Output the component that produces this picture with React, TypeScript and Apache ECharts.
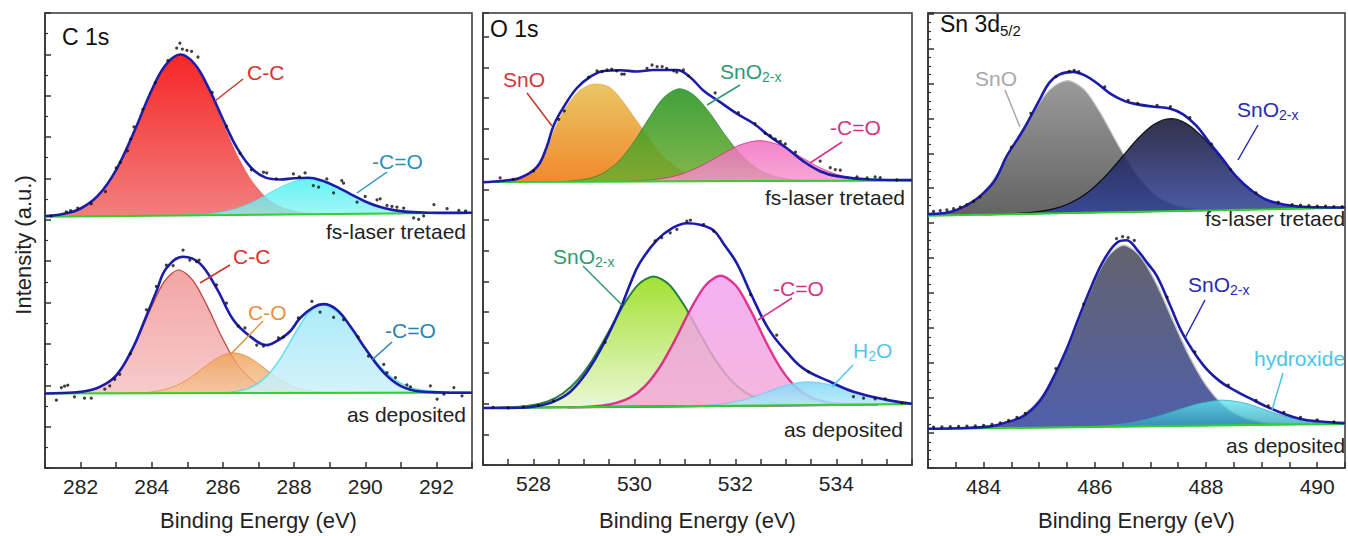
import React, { useEffect, useRef } from "react";
import * as echarts from "echarts";

// ---------------- C 1s (panel 1) ----------------
const C1S_TREATED_BASE = [[281, 253.0], [293, 257.0]];
const C1S_TREATED_CC = [[281.0, 253.0], [281.4, 255.0], [282.0, 261.2], [282.4, 271.1], [282.8, 288.4], [283.2, 314.0], [283.6, 346.9], [284.0, 380.5], [284.4, 406.1], [284.8, 416.0], [285.2, 406.4], [285.6, 381.0], [286.0, 347.7], [286.4, 315.1], [286.8, 289.7], [287.2, 272.7], [287.6, 263.1], [288.2, 257.3], [289.0, 255.7]];
const C1S_TREATED_COO = [[284.2, 254.1], [285.0, 254.6], [285.6, 255.9], [286.0, 258.0], [286.4, 261.6], [286.8, 267.2], [287.2, 274.7], [287.6, 282.5], [288.0, 288.5], [288.4, 291.0], [288.8, 288.8], [289.2, 283.0], [289.6, 275.5], [290.0, 268.3], [290.4, 262.9], [290.8, 259.6], [291.2, 257.8], [291.8, 256.9], [292.6, 256.9]];
const C1S_TREATED_ENV = [[281.0, 253.6], [281.5, 255.6], [282.0, 261.2], [282.5, 274.6], [283.0, 300.2], [283.5, 338.2], [284.0, 380.5], [284.4, 406.1], [284.8, 416.2], [285.2, 406.9], [285.6, 382.4], [286.0, 351.0], [286.4, 321.9], [286.8, 302.0], [287.2, 292.3], [287.6, 290.4], [288.0, 291.6], [288.4, 292.1], [288.8, 289.1], [289.2, 283.0], [289.6, 275.5], [290.0, 268.3], [290.4, 262.9], [290.8, 259.6], [291.2, 257.8], [291.8, 256.9], [292.4, 256.8], [293.0, 257.0]];
const C1S_TREATED_DOTS = [[281.17, 253.7], [281.6, 257.7], [281.72, 259], [281.92, 261.7], [282.3, 266], [282.7, 278.3], [283.0, 302], [283.12, 307.7], [283.32, 319.3], [283.41, 331], [283.5, 343.3], [283.75, 361], [284.1, 388], [284.45, 410], [284.7, 422.7], [284.79, 427.7], [284.86, 421.7], [284.99, 420.3], [285.12, 419.3], [285.3, 413.7], [285.7, 378], [286.1, 344], [286.48, 316.7], [286.8, 300], [287.14, 297.7], [287.23, 297], [287.5, 291], [287.98, 296], [288.15, 293], [288.31, 297], [288.54, 284.3], [288.69, 282.7], [288.92, 291], [289.11, 277], [289.34, 289.3], [289.39, 286.7], [289.77, 267.7], [290.0, 273.3], [290.33, 270], [290.42, 271], [290.61, 264.3], [290.75, 263.3], [290.89, 262.7], [291.08, 261.7], [291.36, 251.7], [291.5, 250.3], [291.64, 253.7], [291.93, 265], [292.3, 261], [292.63, 259.3], [292.82, 258.7]];

const C1S_DEP_BASE = [[281, 75.0], [293, 76.0]];
const C1S_DEP_CC = [[281.2, 75.0], [281.55, 75.3], [281.95, 76.1], [282.35, 78.7], [282.75, 85.6], [283.15, 100.7], [283.55, 126.2], [283.95, 158.7], [284.35, 187.6], [284.75, 199.3], [285.15, 189.2], [285.55, 163.7], [285.95, 133.1], [286.35, 107.2], [286.75, 90.3], [287.15, 81.3], [287.55, 77.4], [288.15, 75.9], [288.6, 75.6]];
const C1S_DEP_CO = [[283.2, 75.2], [283.4, 75.4], [283.9, 76.2], [284.3, 78.4], [284.7, 83.1], [285.1, 91.3], [285.5, 102.2], [285.9, 111.9], [286.3, 115.9], [286.7, 112.0], [287.1, 102.3], [287.5, 91.5], [287.9, 83.4], [288.3, 78.7], [288.7, 76.6], [289.2, 75.9], [289.5, 75.7]];
const C1S_DEP_COO = [[285.5, 75.4], [285.88, 75.7], [286.38, 77.1], [286.78, 81.1], [287.18, 90.6], [287.58, 108.3], [287.98, 132.6], [288.38, 155.0], [288.78, 164.4], [289.18, 158.2], [289.58, 142.1], [289.98, 122.0], [290.38, 103.6], [290.78, 90.3], [291.18, 82.4], [291.58, 78.4], [292.18, 76.4], [292.7, 76.0]];
const C1S_DEP_ENV = [[281.0, 75.0], [281.5, 75.5], [282.07, 77.0], [282.54, 81.7], [283.0, 93.0], [283.47, 121.0], [283.75, 144.3], [284.13, 177.7], [284.41, 201.0], [284.88, 212.7], [285.35, 206.0], [285.82, 181.0], [286.29, 149.3], [286.76, 132.7], [287.23, 123.7], [287.51, 127.7], [287.89, 137.7], [288.17, 151.0], [288.54, 161.7], [288.83, 165.0], [289.2, 159.3], [289.58, 142.7], [290.05, 117.7], [290.52, 96.0], [290.99, 82.7], [291.55, 77.0], [292.2, 76.0], [293.0, 75.7]];
const C1S_DEP_DOTS = [[281.32, 68.3], [281.46, 81], [281.55, 82.3], [281.64, 83.3], [281.83, 71.7], [282.11, 70.3], [282.3, 70.3], [282.68, 79.3], [282.82, 82.7], [282.96, 89.3], [283.1, 94.3], [283.4, 115], [283.85, 159.3], [284.13, 182.7], [284.41, 204.3], [284.6, 203.7], [284.88, 219.3], [285.07, 209.3], [285.26, 207.7], [285.33, 209.3], [285.82, 184.3], [286.1, 166], [286.43, 142.7], [286.62, 141], [286.95, 123.7], [287.14, 122.7], [287.56, 131], [287.7, 131.7], [288.12, 151], [288.5, 167.7], [288.73, 157], [289.11, 151.7], [289.39, 149.3], [289.8, 132], [290.09, 112.7], [290.52, 104.3], [290.61, 96], [290.85, 91], [291.17, 83.7], [291.27, 81.7], [291.83, 82.7], [292.02, 69.3], [292.21, 74.3], [292.49, 81], [292.72, 72.7]];

// ---------------- O 1s (panel 2) ----------------
const O1S_TREATED_BASE = [[527, 286.7], [535.5, 288.3]];
const O1S_TREATED_SNO = [[527.0, 286.7], [527.4, 288.0], [527.74, 290.5], [528.07, 301.0], [528.26, 318.0], [528.4, 338.0], [528.59, 358.0], [528.86, 377.0], [529.1, 385.0], [529.29, 386.0], [529.5, 383.0], [529.69, 373.9], [530.09, 345.7], [530.49, 317.7], [530.89, 299.5], [531.29, 291.2], [531.69, 288.5], [532.1, 287.7]];
const O1S_TREATED_SNO2X = [[528.5, 287.0], [528.69, 287.6], [529.09, 290.2], [529.39, 296.0], [529.69, 307.9], [529.99, 327.4], [530.29, 351.6], [530.59, 372.8], [530.89, 381.3], [531.19, 374.5], [531.49, 356.9], [531.79, 335.0], [532.09, 315.6], [532.39, 301.8], [532.69, 293.9], [533.09, 289.5], [533.59, 288.2], [534.0, 288.0]];
const O1S_TREATED_COO = [[529.7, 287.2], [529.99, 287.8], [530.49, 289.8], [530.89, 294.1], [531.29, 302.3], [531.69, 313.6], [532.09, 324.3], [532.49, 328.7], [532.89, 323.9], [533.29, 312.4], [533.69, 300.9], [534.09, 293.3], [534.49, 289.8], [534.99, 288.5], [535.4, 288.3]];
const O1S_TREATED_ENV = [[527.0, 286.5], [527.4, 288.0], [527.74, 291.0], [528.07, 302.0], [528.26, 322.0], [528.4, 344.0], [528.59, 362.0], [528.86, 382.0], [529.13, 393.5], [529.39, 399.3], [529.72, 400.0], [530.05, 398.7], [530.38, 400.3], [530.84, 400.3], [531.11, 392.7], [531.37, 379.3], [531.7, 367.7], [532.03, 356.0], [532.36, 346.0], [532.69, 332.7], [533.02, 321.0], [533.35, 307.7], [533.68, 297.7], [534.01, 292.7], [534.67, 289.3], [535.5, 288.7]];
const O1S_TREATED_DOTS = [[527.34, 291], [527.6, 289.5], [528.0, 298], [528.5, 350.3], [528.61, 358.7], [529.09, 393], [529.26, 399.3], [529.36, 398.7], [529.46, 400.3], [529.55, 401], [529.65, 399.3], [529.75, 396], [529.8, 396], [530.25, 402], [530.35, 405.3], [530.45, 403.7], [530.55, 403.7], [530.64, 402], [530.78, 399.3], [530.84, 398], [530.97, 400.3], [531.07, 394.3], [531.6, 377], [532.06, 357], [532.39, 346], [532.59, 336], [532.69, 333.7], [532.79, 330.3], [532.89, 328], [532.99, 325.3], [533.19, 317], [533.68, 308], [533.88, 301.3], [533.98, 299.3], [534.08, 298.7], [534.41, 292], [534.61, 291], [534.77, 292], [534.87, 291.3], [535.2, 289]];

const O1S_DEP_BASE = [[527, 57.7], [535.5, 61.7]];
const O1S_DEP_SNO2X = [[527.1, 57.75], [527.38, 58.2], [527.88, 59.8], [528.28, 64.5], [528.58, 72.4], [528.88, 86.4], [529.18, 107.3], [529.48, 134.1], [529.78, 161.7], [530.08, 183.0], [530.38, 191.0], [530.68, 183.2], [530.98, 162.3], [531.28, 134.9], [531.58, 108.5], [531.88, 87.8], [532.18, 74.1], [532.48, 66.5], [532.88, 62.2], [533.38, 61.0], [533.7, 60.85]];
const O1S_DEP_COO = [[528.7, 58.5], [529.01, 58.9], [529.51, 61.4], [529.91, 68.3], [530.21, 80.0], [530.51, 99.8], [530.81, 127.2], [531.11, 157.6], [531.41, 182.2], [531.71, 191.7], [532.01, 181.8], [532.31, 155.9], [532.61, 124.4], [532.91, 97.1], [533.21, 78.4], [533.51, 68.2], [533.91, 62.8], [534.41, 61.4], [534.8, 61.37]];
const O1S_DEP_H2O = [[530.9, 59.53], [531.42, 60.5], [531.82, 62.4], [532.22, 66.8], [532.62, 73.7], [533.02, 81.0], [533.42, 84.3], [533.82, 82.0], [534.22, 76.3], [534.62, 70.0], [535.02, 65.5], [535.42, 63.2], [535.5, 61.7]];
const O1S_DEP_ENV = [[527.0, 57.7], [527.74, 58.0], [528.1, 60.0], [528.4, 64.3], [528.73, 74.3], [529.06, 94.3], [529.39, 122.7], [529.72, 158.0], [529.92, 184.0], [530.11, 205.0], [530.45, 228.0], [530.75, 240.0], [531.04, 245.0], [531.3, 243.5], [531.57, 237.7], [531.77, 224.0], [532.03, 204.3], [532.3, 174.3], [532.66, 137.7], [533.02, 114.3], [533.35, 97.7], [533.88, 84.3], [534.34, 74.3], [535.0, 66.0], [535.5, 62.0]];
const O1S_DEP_DOTS = [[527.2, 58.5], [527.5, 58], [527.8, 59], [528.1, 60.5], [528.4, 65], [529.42, 124.3], [530.41, 227], [530.54, 230.3], [530.71, 235.3], [530.84, 238.7], [531.04, 247], [531.11, 248], [531.37, 243.7], [531.57, 237], [532.3, 172.7], [532.82, 131.7], [533.45, 94.3], [534.34, 69.3], [534.54, 67.7], [534.77, 67], [534.97, 67], [535.3, 63]];

// ---------------- Sn 3d5/2 (panel 3) ----------------
const SN_TREATED_BASE = [[483, 254.0], [490.5, 261.9]];
const SN_TREATED_SNO = [[483.0, 254.0], [483.41, 258.5], [483.71, 265.5], [484.01, 278.0], [484.31, 302.0], [484.61, 331.0], [484.91, 360.0], [485.21, 381.7], [485.51, 390.0], [485.81, 380.9], [486.11, 356.5], [486.41, 326.2], [486.71, 298.7], [487.01, 279.1], [487.31, 267.8], [487.71, 261.5], [488.21, 259.8], [488.6, 259.9]];
const SN_TREATED_SNO2X = [[484.0, 255.05], [484.36, 255.6], [484.86, 257.3], [485.26, 260.9], [485.56, 266.8], [485.86, 276.9], [486.16, 292.0], [486.46, 311.0], [486.76, 330.7], [487.06, 345.7], [487.36, 351.6], [487.66, 346.3], [487.96, 331.9], [488.26, 312.9], [488.56, 292.5], [488.86, 277.5], [489.16, 268.5], [489.46, 264.0], [489.86, 262.0], [490.36, 261.6], [490.8, 262.2]];
const SN_TREATED_ENV = [[483.0, 255.5], [483.54, 260.3], [484.13, 284.3], [484.42, 314.3], [484.72, 341.0], [485.01, 371.0], [485.18, 387.7], [485.36, 396.0], [485.6, 398.7], [485.83, 395.0], [486.07, 386.0], [486.3, 376.0], [486.54, 369.3], [486.77, 366.0], [487.06, 363.7], [487.36, 361.7], [487.59, 356.0], [487.83, 344.3], [488.06, 327.7], [488.3, 311.0], [488.53, 294.3], [488.82, 279.3], [489.12, 269.3], [489.59, 263.7], [490.0, 262.4], [490.5, 262.2]];
const SN_TREATED_DOTS = [[483.1, 258.3], [483.22, 259], [483.34, 259.8], [483.46, 261], [483.58, 262.5], [483.7, 265], [483.82, 268.5], [483.94, 273], [484.5, 323], [484.85, 357], [485.3, 394], [485.54, 399.3], [485.63, 400.3], [485.71, 399], [486.18, 383.7], [486.6, 370], [486.77, 367], [487.12, 365], [487.36, 363.7], [487.71, 352.7], [488.1, 326], [488.44, 300.3], [488.9, 277], [489.3, 267.5], [489.55, 265], [489.7, 264.5], [489.85, 264], [490.0, 263.6], [490.15, 263.5], [490.3, 263.2], [490.45, 263]];

const SN_DEP_BASE = [[483, 39.3], [490.5, 44.4]];
const SN_DEP_SNO2X = [[483.2, 39.44], [483.51, 39.8], [484.01, 41.1], [484.41, 45.2], [484.71, 53.2], [485.01, 69.4], [485.31, 96.8], [485.61, 135.0], [485.91, 177.2], [486.21, 211.1], [486.51, 224.3], [486.81, 213.7], [487.11, 185.3], [487.41, 147.8], [487.71, 111.5], [488.01, 82.6], [488.31, 63.3], [488.61, 52.4], [489.01, 46.1], [489.51, 44.1], [489.9, 44.0]];
const SN_DEP_HYD = [[485.5, 41.0], [485.8, 41.5], [486.3, 43.1], [486.7, 46.1], [487.1, 51.5], [487.5, 58.7], [487.9, 65.3], [488.3, 68.3], [488.7, 65.2], [489.1, 57.9], [489.5, 50.8], [489.9, 46.6], [490.3, 45.0], [490.8, 44.7], [491.0, 44.74]];
const SN_DEP_ENV = [[483.0, 39.5], [483.5, 40.0], [484.13, 41.9], [484.42, 46.0], [484.72, 52.5], [485.01, 67.5], [485.24, 89.5], [485.48, 118.0], [485.71, 151.0], [485.95, 184.3], [486.18, 211.0], [486.42, 227.7], [486.57, 229.3], [486.77, 219.0], [486.95, 206.0], [487.12, 193.0], [487.36, 163.0], [487.59, 134.3], [487.94, 104.3], [488.24, 87.7], [488.53, 77.7], [488.82, 69.3], [489.12, 61.0], [489.41, 54.3], [489.7, 49.3], [490.0, 47.0], [490.5, 45.2]];
const SN_DEP_DOTS = [[483.1, 41.2], [483.25, 41.4], [483.4, 41.6], [483.55, 41.8], [483.7, 42.1], [483.85, 42.5], [484.0, 43], [484.15, 43.8], [484.3, 45.5], [484.45, 48], [484.6, 51], [484.75, 55], [485.3, 100], [485.8, 165], [486.39, 231], [486.5, 233], [486.6, 232], [486.71, 229], [487.3, 172], [487.8, 117], [488.4, 83.5], [488.9, 68], [489.12, 62.5], [489.4, 56], [489.7, 51], [490.0, 48.5], [490.3, 46.5]];

// axis ranges
const X_RANGES = [[281, 293, 1], [527, 535.5, 0.5], [483, 490.5, 0.5]];
const Y_MAX = 458;
const Y_TICKS = [[41.64, 2], [31, 0], [35.2, 4]];

const FONT = '"Liberation Sans", Arial, Helvetica, sans-serif';
const INK = "#222";

function area(ax: number, pts: number[][], c0: string, c1: string, stroke: string, lw: number, op: number) {
  return {
    type: "custom",
    xAxisIndex: ax,
    yAxisIndex: ax,
    data: [[pts[0][0], pts[0][1]]],
    silent: true,
    z: 2,
    clip: true,
    renderItem: (_p: any, api: any) => ({
      type: "polygon",
      shape: { points: pts.map((p) => api.coord(p)), smooth: 0.3 },
      style: {
        fill: new echarts.graphic.LinearGradient(0, 0, 0, 1, [
          { offset: 0, color: c0 },
          { offset: 1, color: c1 },
        ]),
        stroke,
        lineWidth: lw,
        opacity: op,
      },
    }),
  };
}
function env(ax: number, data: number[][]) {
  return { type: "line", xAxisIndex: ax, yAxisIndex: ax, data, smooth: 0.4, symbol: "none", silent: true, z: 4, lineStyle: { color: "#1c1caa", width: 2.6 } };
}
function base(ax: number, data: number[][]) {
  return { type: "line", xAxisIndex: ax, yAxisIndex: ax, data, symbol: "none", silent: true, z: 3, lineStyle: { color: "#2fd02f", width: 2 } };
}
function dots(ax: number, data: number[][]) {
  return { type: "scatter", xAxisIndex: ax, yAxisIndex: ax, data, symbolSize: 3.2, silent: true, z: 5, itemStyle: { color: "#111" } };
}
function txt(text: string, x: number, y: number, color: string, align = "left", size = 21) {
  return { type: "text", x, y, silent: true, z: 100, style: { text, fill: color, fontSize: size, fontFamily: FONT, align, verticalAlign: "middle", textAlign: align, textVerticalAlign: "middle" } };
}
// main text followed by a lowered, smaller subscript (and optional trailing text)
function subLabel(main: string, mainW: number, sub: string, subW: number, x: number, y: number, color: string, size = 21, subSize = 14, tail = "") {
  const els: any[] = [
    txt(main, x, y, color, "left", size),
    txt(sub, x + mainW, y + 6, color, "left", subSize),
  ];
  if (tail) els.push(txt(tail, x + mainW + subW, y, color, "left", size));
  return els;
}
function lead(x1: number, y1: number, x2: number, y2: number, color: string) {
  return { type: "line", silent: true, z: 100, shape: { x1, y1, x2, y2 }, style: { stroke: color, lineWidth: 1.5 } };
}

function xAx(i: number, gap: number) {
  const [min, max, interval] = X_RANGES[i];
  return {
    type: "value", gridIndex: i, min, max, interval,
    name: "Binding Energy (eV)", nameLocation: "middle", nameGap: gap,
    nameTextStyle: { fontSize: 22, color: INK, fontFamily: FONT },
    axisLine: { show: true, lineStyle: { color: "#333", width: 1.5 } },
    axisTick: { show: true, inside: true, length: 6, lineStyle: { color: "#333", width: 1.5 } },
    axisLabel: {
      show: true, fontSize: 21, color: INK, fontFamily: FONT, margin: 8,
      formatter: (v: number) => (Math.abs(v / 2 - Math.round(v / 2)) < 1e-6 ? String(v) : ""),
    },
    splitLine: { show: false },
  };
}
function yAx(i: number) {
  const [interval, minor] = Y_TICKS[i];
  return {
    type: "value", gridIndex: i, min: 0, max: Y_MAX, interval,
    axisLine: { show: true, lineStyle: { color: "#333", width: 1.5 } },
    axisTick: { show: true, inside: true, length: 6, lineStyle: { color: "#333", width: 1.5 } },
    minorTick: { show: minor > 0, splitNumber: minor || 5, length: 3, lineStyle: { color: "#333", width: 1.2 } },
    axisLabel: { show: false },
    splitLine: { show: false },
    minorSplitLine: { show: false },
  };
}

export default function App() {
  const ref = useRef<HTMLDivElement>(null);
  useEffect(() => {
    if (!ref.current) return;
    const chart = echarts.init(ref.current, null, { renderer: "svg" });
    const grid = { show: true, borderColor: "#333", borderWidth: 1.5, backgroundColor: "transparent" };
    const SNO_W = 42;
    const option: any = {
      animation: false,
      grid: [
        { ...grid, left: 45, top: 13, width: 427, height: 458 },
        { ...grid, left: 483, top: 13, width: 429, height: 458 },
        { ...grid, left: 928, top: 13, width: 426, height: 458 },
      ],
      xAxis: [xAx(0, 41), xAx(1, 44), xAx(2, 41)],
      yAxis: [yAx(0), yAx(1), yAx(2)],
      series: [
        // panel 1 treated
        area(0, C1S_TREATED_CC, "#f51414", "#f27474", "rgba(200,40,40,0.4)", 0.8, 0.92),
        area(0, C1S_TREATED_COO, "#3cf0f2", "#8cf3f3", "#3cd8e0", 0.8, 0.78),
        base(0, C1S_TREATED_BASE),
        env(0, C1S_TREATED_ENV),
        dots(0, C1S_TREATED_DOTS),
        // panel 1 deposited
        area(0, C1S_DEP_CC, "#f2a0a0", "#f7c8c8", "#b33a36", 1.2, 0.95),
        area(0, C1S_DEP_CO, "#f0a055", "#f4c49a", "#e59040", 1, 0.8),
        area(0, C1S_DEP_COO, "#9ee6f8", "#cdf1fa", "#4fdbe8", 1.5, 0.85),
        base(0, C1S_DEP_BASE),
        env(0, C1S_DEP_ENV),
        dots(0, C1S_DEP_DOTS),
        // panel 2 treated
        area(1, O1S_TREATED_SNO, "#e9c45e", "#f08524", "rgba(220,150,60,0.6)", 0.8, 0.96),
        area(1, O1S_TREATED_SNO2X, "#259520", "#72ad32", "#2a7a3a", 0.8, 0.88),
        area(1, O1S_TREATED_COO, "#f068c0", "#f893cb", "#e0207a", 0.9, 0.82),
        base(1, O1S_TREATED_BASE),
        env(1, O1S_TREATED_ENV),
        dots(1, O1S_TREATED_DOTS),
        // panel 2 deposited
        area(1, O1S_DEP_SNO2X, "#9fe02c", "#eaf7d2", "#1f7a3a", 2, 0.96),
        area(1, O1S_DEP_COO, "#f0a0f0", "#f4a6d6", "#d8107a", 2.4, 0.82),
        area(1, O1S_DEP_H2O, "#7fd6f5", "#b4e9f8", "#6fd0f0", 1.2, 0.85),
        base(1, O1S_DEP_BASE),
        env(1, O1S_DEP_ENV),
        dots(1, O1S_DEP_DOTS),
        // panel 3 treated
        area(2, SN_TREATED_SNO, "#979797", "#5e5e5e", "#c8c8c8", 1.2, 0.97),
        area(2, SN_TREATED_SNO2X, "#151532", "#34459c", "#000000", 1.2, 0.88),
        base(2, SN_TREATED_BASE),
        env(2, SN_TREATED_ENV),
        dots(2, SN_TREATED_DOTS),
        // panel 3 deposited
        area(2, SN_DEP_SNO2X, "#5e5e68", "#4a5aa8", "#c8c8c8", 1.5, 0.97),
        area(2, SN_DEP_HYD, "#5ee8f2", "#2f9cb4", "#2fa8b8", 1, 0.78),
        base(2, SN_DEP_BASE),
        env(2, SN_DEP_ENV),
        dots(2, SN_DEP_DOTS),
      ],
      graphic: [
        { type: "text", x: 23, y: 245, rotation: Math.PI / 2, silent: true, style: { text: "Intensity (a.u.)", fill: INK, fontSize: 22, fontFamily: FONT, align: "center", verticalAlign: "middle", textAlign: "center", textVerticalAlign: "middle" } },
        // panel 1
        txt("C 1s", 62, 37, "#111", "left", 23),
        txt("C-C", 247, 72, "#d8302a"),
        lead(243, 79, 215, 101, "#c0392b"),
        txt("-C=O", 372, 161, "#2a90b8"),
        lead(387, 172, 357, 193, "#2a90b8"),
        txt("fs-laser tretaed", 466, 231, INK, "right"),
        txt("C-C", 233, 256, "#d8302a"),
        lead(230, 265, 200, 283, "#c0392b"),
        txt("C-O", 248, 312, "#e8913a"),
        lead(263, 321, 230, 355, "#e8913a"),
        txt("-C=O", 385, 330, "#2a80aa"),
        lead(392, 342, 372, 360, "#2a80aa"),
        txt("as deposited", 466, 414, INK, "right"),
        // panel 2
        txt("O 1s", 490, 29, "#111", "left", 23),
        txt("SnO", 503, 79, "#d0363a"),
        lead(527, 93, 552, 126, "#c0392b"),
        ...subLabel("SnO", SNO_W, "2-x", 20, 720, 71, "#2f9a70"),
        lead(740, 85, 707, 105, "#2f9a70"),
        txt("-C=O", 830, 127, "#d6308a"),
        lead(842, 142, 810, 163, "#d6308a"),
        txt("fs-laser tretaed", 905, 197, INK, "right"),
        ...subLabel("SnO", SNO_W, "2-x", 20, 553, 256, "#2f9a70"),
        lead(583, 266, 622, 305, "#2f9a70"),
        txt("-C=O", 773, 288, "#d6308a"),
        lead(792, 298, 758, 320, "#d6308a"),
        ...subLabel("H", 15.2, "2", 7.8, 853, 350, "#56c6ec", 21, 14, "O"),
        lead(853, 365, 832, 387, "#56c6ec"),
        txt("as deposited", 903, 429, INK, "right"),
        // panel 3
        ...subLabel("Sn 3d", 60, "5/2", 20, 940, 24, "#111", 23, 15),
        txt("SnO", 975, 78, "#a8a8a8"),
        lead(1005, 90, 1020, 127, "#a8a8a8"),
        ...subLabel("SnO", SNO_W, "2-x", 20, 1237, 109, "#2a2ab0"),
        lead(1258, 125, 1238, 160, "#2a2ab0"),
        txt("fs-laser tretaed", 1205, 218, INK, "left"),
        ...subLabel("SnO", SNO_W, "2-x", 20, 1188, 284, "#2a2ab0"),
        lead(1205, 300, 1185, 338, "#2a2ab0"),
        txt("hydroxide", 1254, 358, "#4cc4e6"),
        lead(1283, 373, 1272, 410, "#4cc4e6"),
        txt("as deposited", 1226, 445, INK, "left"),
      ],
    };
    chart.setOption(option);
    return () => chart.dispose();
  }, []);
  return <div ref={ref} style={{ position: "absolute", left: 0, top: 0, width: 1348, height: 536, background: "#fff" }} />;
}
